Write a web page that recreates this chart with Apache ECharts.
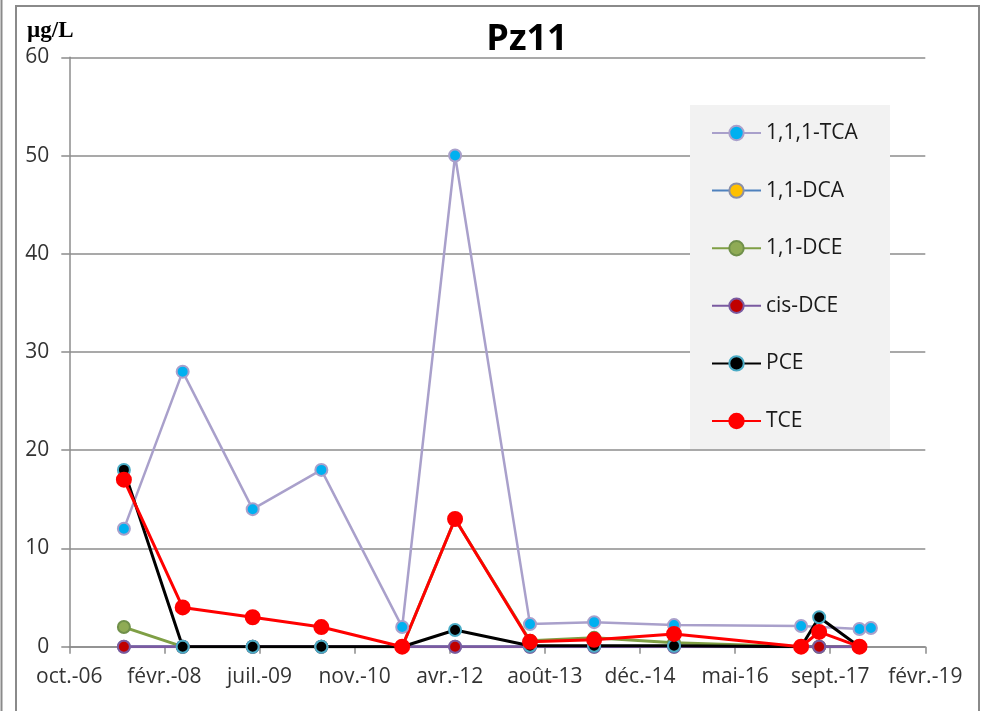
<!DOCTYPE html>
<html>
<head>
<meta charset="utf-8">
<script src="https://cdn.jsdelivr.net/npm/echarts@6/dist/echarts.min.js"></script>
<style>html,body{margin:0;padding:0;background:#fff}#c{width:986px;height:711px}</style>
</head>
<body>
<div id="c"></div>
<script>
// Sampling dates
var sampleDates = ['2007-07-29','2008-06-02','2009-06-05','2010-06-01','2011-07-31','2012-05-04',
  '2013-06-02','2014-05-05','2015-06-29','2017-04-27','2017-07-31','2018-02-28','2018-04-29'];
// Series values (µg/L)
var tca    = [12, 28, 14, 18, 2, 50, 2.3, 2.5, 2.2, 2.1, null, 1.8, 1.9];
var dca    = [0, 0, 0, 0, 0, 0, 0, 0, 0, 0, 0, 0, null];
var dce    = [2, 0, 0, 0, 0, 13, 0.6, 0.9, 0.4, 0, 0, 0, null];
var cisDce = [0, 0, 0, 0, 0, 0, 0, 0, 0, 0, 0, 0, null];
var pce    = [18, 0, 0, 0, 0, 1.7, 0.1, 0.1, 0.1, 0, 3, 0, null];
var tce    = [17, 4, 3, 2, 0, 13, 0.5, 0.7, 1.3, 0, 1.5, 0, null];
// Axis tick labels (every 500 days from oct.-06)
var xTickLabels = ['oct.-06','févr.-08','juil.-09','nov.-10','avr.-12','août-13','déc.-14','mai-16','sept.-17','févr.-19'];
var yTickLabels = ['0','10','20','30','40','50','60'];
var seriesNames = ['1,1,1-TCA','1,1-DCA','1,1-DCE','cis-DCE','PCE','TCE'];

var axisStart = Date.UTC(2006, 9, 15);
function dayIndex(s){ var p = s.split('-'); return (Date.UTC(+p[0], +p[1]-1, +p[2]) - axisStart) / 86400000; }
function pairs(vals){ return vals.map(function(v,i){ return [dayIndex(sampleDates[i]), v]; }); }

var FONT = 'Open Sans';
function mk(name, vals, lineColor, fill, border, lw, size, extra){
  var s = {
    name: name, type: 'line', data: pairs(vals), symbol: 'circle', symbolSize: size,
    lineStyle: {color: lineColor, width: lw},
    itemStyle: {color: fill, borderColor: border, borderWidth: 2},
    emphasis: {disabled: true}, animation: false
  };
  if (extra) for (var k in extra) s[k] = extra[k];
  return s;
}

var chart = echarts.init(document.getElementById('c'));
chart.setOption({
  backgroundColor: '#fff',
  animation: false,
  grid: {left: 69.3, right: 60.7, top: 57.3, bottom: 64.3, containLabel: false},
  graphic: [
    {type: 'rect', shape: {x: 16, y: 6, width: 963, height: 720}, style: {fill: 'none', stroke: '#8a8a8a', lineWidth: 2}, z: 0, silent: true},
    {type: 'line', shape: {x1: 1.5, y1: 0, x2: 1.5, y2: 711}, style: {stroke: '#8a8a8a', lineWidth: 2}, silent: true},
    {type: 'rect', shape: {x: 690, y: 105, width: 200, height: 344}, style: {fill: '#f2f2f2'}, z: 3, silent: true},
    {type: 'text', x: 527, y: 40, style: {text: 'Pz11', font: 'bold 36px "Open Sans"', fill: '#000', align: 'center', verticalAlign: 'middle'}, z: 5},
    {type: 'text', x: 27, y: 31, style: {text: 'µg/L', font: 'bold 23px "Liberation Serif"', fill: '#000', align: 'left', verticalAlign: 'middle'}, z: 5}
  ],
  legend: {
    orient: 'vertical', left: 711, top: 122.5, z: 10, padding: 0,
    itemWidth: 49, itemHeight: 18, itemGap: 36.6,
    textStyle: {fontFamily: FONT, fontSize: 21, color: '#1a1a1a', lineHeight: 21},
    data: seriesNames
  },
  xAxis: {
    type: 'value', min: 0, max: 4500, interval: 500,
    axisLine: {show: true, onZero: false, lineStyle: {color: '#8c8c8c', width: 1.5}},
    axisTick: {show: true, length: 7, lineStyle: {color: '#8c8c8c', width: 1.5}},
    splitLine: {show: false},
    axisLabel: {margin: 20, fontFamily: FONT, fontSize: 21, color: '#333',
      formatter: function(v){ return xTickLabels[Math.round(v/500)]; }}
  },
  yAxis: {
    type: 'value', min: 0, max: 60, interval: 10,
    axisLine: {show: true, lineStyle: {color: '#8c8c8c', width: 1.5}},
    axisTick: {show: true, length: 8, lineStyle: {color: '#8c8c8c', width: 1.5}},
    splitLine: {show: true, lineStyle: {color: '#8c8c8c', width: 1.5}},
    axisLabel: {margin: 20, fontFamily: FONT, fontSize: 21, color: '#333',
      formatter: function(v){ return yTickLabels[Math.round(v/10)]; }}
  },
  series: [
    mk(seriesNames[0], tca, '#a9a0cb', '#00b0f0', '#a9a0cb', 2.5, 12, {connectNulls: true}),
    mk(seriesNames[1], dca, '#4f81bd', '#ffc000', '#8a8fa8', 2.5, 12),
    mk(seriesNames[2], dce, '#7f9f45', '#8fab55', '#70904a', 3, 12),
    mk(seriesNames[3], cisDce, '#7a5aa0', '#c00000', '#7a5aa0', 3, 12),
    mk(seriesNames[4], pce, '#000000', '#000000', '#4bacc6', 3, 12),
    mk(seriesNames[5], tce, '#ff0000', '#ff0000', '#ff0000', 3, 14)
  ]
});
</script>
</body>
</html>
